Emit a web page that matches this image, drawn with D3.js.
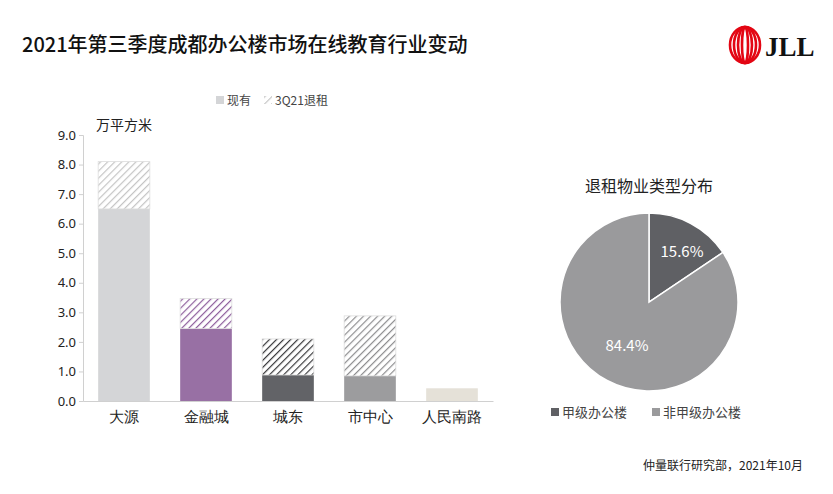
<!DOCTYPE html>
<html><head><meta charset="utf-8">
<script src="https://cdn.jsdelivr.net/npm/d3@7"></script>
<style>body{margin:0;background:#fff;font-family:"Noto Sans CJK SC","Noto Sans",sans-serif;}</style>
</head><body><svg id="c" width="833" height="494"></svg>
<script>
var districts = ['大源', '金融城', '城东', '市中心', '人民南路'];
var existing = [6.5, 2.45, 0.88, 0.85, 0.43];
var vacated = [1.6, 1.02, 1.22, 2.03, 0];
var barColors = ['#d4d5d7', '#9870a4', '#626367', '#9c9c9e', '#e5e1d8'];
var hatchColors = ['#c4c4c4', '#8e5f9c', '#3a3a3c', '#8d8d8f', '#ccc'];
var yTicks = [0, 1, 2, 3, 4, 5, 6, 7, 8, 9];
var pieLabels = ['甲级办公楼', '非甲级办公楼'];
var pieValues = [15.6, 84.4];
var pieColors = ['#5f6064', '#9a9a9c'];

var svg = d3.select('#c');
svg.append('text').attr('x', 22).attr('y', 52).attr('font-size', 20).attr('font-weight', 500)
    .attr('fill', '#111').text('2021年第三季度成都办公楼市场在线教育行业变动');

// logo
var logo = svg.append('g').attr('transform', 'translate(745,45)');
[15, 11, 7, 3].forEach(function(rx) {
    logo.append('ellipse').attr('rx', rx).attr('ry', 18).attr('fill', 'none')
        .attr('stroke', '#e30613').attr('stroke-width', 2.6);
});
svg.append('text').attr('x', 765).attr('y', 56).attr('font-size', 27).attr('font-weight', 'bold')
    .attr('font-family', 'Liberation Serif').attr('fill', '#111').text('JLL');

var defs = svg.append('defs');
hatchColors.forEach(function(c, i) {
    var p = defs.append('pattern').attr('id', 'h' + i).attr('patternUnits', 'userSpaceOnUse')
        .attr('width', 5).attr('height', 5).attr('patternTransform', 'rotate(45)');
    p.append('rect').attr('width', 5).attr('height', 5).attr('fill', '#fff');
    p.append('line').attr('x1', 0).attr('y1', 0).attr('x2', 0).attr('y2', 5)
        .attr('stroke', c).attr('stroke-width', 2.4);
});

var x = d3.scaleBand().domain(districts).range([83, 493]).paddingInner(0.37).paddingOuter(0.185);
var y = d3.scaleLinear().domain([0, 9]).range([401, 135]);

var ax = svg.append('g').attr('transform', 'translate(83,0)')
    .call(d3.axisLeft(y).tickValues(yTicks).tickFormat(d3.format('.1f')).tickSize(4));
ax.select('.domain').attr('stroke', '#d0d0d0');
ax.selectAll('line').attr('stroke', '#d0d0d0');
ax.selectAll('text').attr('font-size', 13).attr('fill', '#222').attr('font-family', 'Noto Sans');

var bx = svg.append('g').attr('transform', 'translate(0,401)')
    .call(d3.axisBottom(x).tickSize(0).tickPadding(10));
bx.select('.domain').attr('stroke', '#d0d0d0');
bx.selectAll('text').attr('font-size', 15).attr('fill', '#222');

svg.append('text').attr('x', 96).attr('y', 130).attr('font-size', 14).attr('fill', '#222').text('万平方米');

svg.selectAll('.ex').data(districts).enter().append('rect')
    .attr('x', function(d) { return x(d); }).attr('width', x.bandwidth())
    .attr('y', function(d, i) { return y(existing[i]); })
    .attr('height', function(d, i) { return y(0) - y(existing[i]); })
    .attr('fill', function(d, i) { return barColors[i]; });
svg.selectAll('.va').data(districts).enter().append('rect')
    .attr('x', function(d) { return x(d); }).attr('width', x.bandwidth())
    .attr('y', function(d, i) { return y(existing[i] + vacated[i]); })
    .attr('height', function(d, i) { return y(existing[i]) - y(existing[i] + vacated[i]); })
    .attr('fill', function(d, i) { return 'url(#h' + i + ')'; })
    .attr('stroke', function(d, i) { return vacated[i] ? '#ddd' : 'none'; }).attr('stroke-width', 0.8);

// legend
svg.append('rect').attr('x', 216).attr('y', 96).attr('width', 8).attr('height', 8).attr('fill', '#d4d5d7');
svg.append('text').attr('x', 227).attr('y', 105).attr('font-size', 12).attr('fill', '#444').text('现有');
svg.append('rect').attr('x', 264).attr('y', 96).attr('width', 8).attr('height', 8).attr('fill', 'url(#h0)');
svg.append('text').attr('x', 275).attr('y', 105).attr('font-size', 12).attr('fill', '#444').text('3Q21退租');

// pie
svg.append('text').attr('x', 649).attr('y', 192).attr('text-anchor', 'middle').attr('font-size', 16)
    .attr('fill', '#222').text('退租物业类型分布');
var pie = d3.pie().sort(null)(pieValues);
var arc = d3.arc().innerRadius(0).outerRadius(89);
var pg = svg.append('g').attr('transform', 'translate(649,302)');
pg.selectAll('path').data(pie).enter().append('path').attr('d', arc)
    .attr('fill', function(d, i) { return pieColors[i]; }).attr('stroke', '#fff').attr('stroke-width', 1.5);
var labelPos = [[33, -50], [-22, 44]];
pg.selectAll('.pl').data(pie).enter().append('text')
    .attr('transform', function(d, i) { return 'translate(' + labelPos[i] + ')'; })
    .attr('text-anchor', 'middle').attr('dy', '0.35em').attr('font-size', 15).attr('fill', '#fff')
    .text(function(d) { return d.data.toFixed(1) + '%'; });

pieLabels.forEach(function(l, i) {
    var lx = [551, 652][i];
    svg.append('rect').attr('x', lx).attr('y', 408).attr('width', 8).attr('height', 8).attr('fill', pieColors[i]);
    svg.append('text').attr('x', lx + 11).attr('y', 417).attr('font-size', 13).attr('fill', '#444').text(l);
});

svg.append('text').attr('x', 803).attr('y', 470).attr('text-anchor', 'end').attr('font-size', 12)
    .attr('fill', '#222').text('仲量联行研究部，2021年10月');
</script></body></html>
